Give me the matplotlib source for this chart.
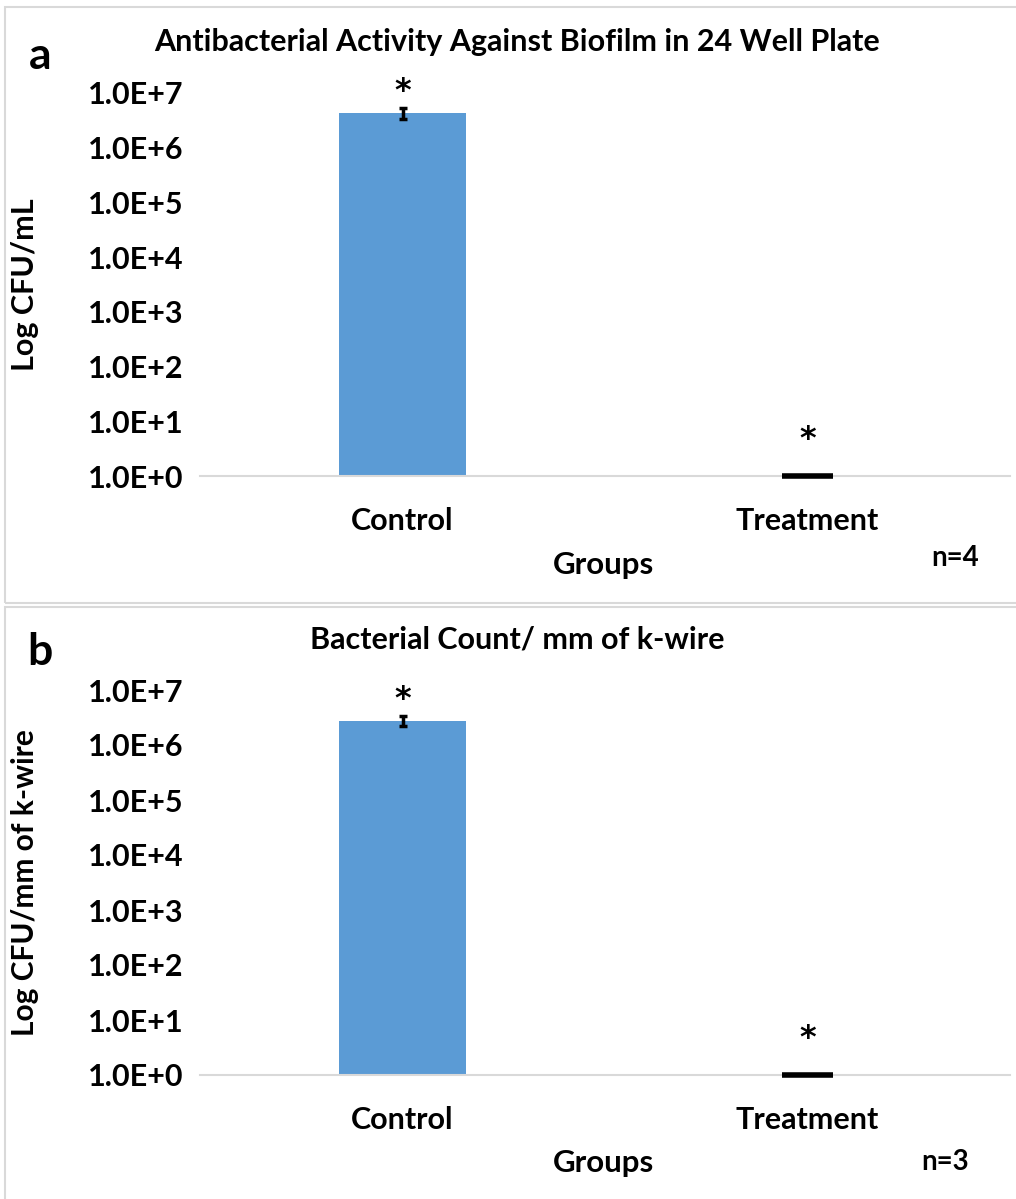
import matplotlib
matplotlib.use("Agg")
import matplotlib.pyplot as plt
from matplotlib.patches import Rectangle

plt.rcParams['font.family'] = ['Lato', 'DejaVu Sans']
plt.rcParams['font.weight'] = 'bold'

groups = ['Control', 'Treatment']

# panel a: biofilm in 24 well plate
title_a = 'Antibacterial Activity Against Biofilm in 24 Well Plate'
ylabel_a = 'Log CFU/mL'
cfu_a = [4.3e6, 1.0]
err_a = [1.0e6, 0.0]
n_a = 'n=4'

# panel b: k-wire
title_b = 'Bacterial Count/ mm of k-wire'
ylabel_b = 'Log CFU/mm of k-wire'
cfu_b = [2.75e6, 1.0]
err_b = [0.55e6, 0.0]
n_b = 'n=3'

yticks = [1e0, 1e1, 1e2, 1e3, 1e4, 1e5, 1e6, 1e7]
yticklabels = ['1.0E+%d' % i for i in range(8)]

W, H = 1016, 1199
fig = plt.figure(figsize=(W / 100, H / 100), dpi=100)

def px(x0, y0, x1, y1):
    # pixel box -> figure fraction rect
    return [x0 / W, 1 - y1 / H, (x1 - x0) / W, (y1 - y0) / H]

# panel frames
for y0, y1 in [(7, 603), (607, 1205)]:
    fig.patches.append(Rectangle((5 / W, 1 - y1 / H), (1020 - 5) / W, (y1 - y0) / H,
                                 transform=fig.transFigure, fill=False,
                                 edgecolor='#d9d9d9', linewidth=1.5))

star_offsets = [12, 26]  # points above the top of each mark

def panel(rect, letter, letter_xy, title, title_y, ylabel, ylabel_size, vals, errs, n_text, n_xy, groups_y):
    ax = fig.add_axes(px(*rect))
    ax.set_yscale('log')
    ax.set_ylim(1, 1e7)
    ax.set_xlim(-0.5, 1.5)
    ax.bar([0], [vals[0]], width=0.316, color='#5B9BD5', zorder=2)
    ax.errorbar([0], [vals[0]], yerr=[errs[0]], fmt='none', ecolor='black',
                elinewidth=2.5, capsize=3, capthick=2.5, zorder=3)
    # treatment sits at the baseline, drawn as a thick black line
    ax.hlines(vals[1], 1 - 0.063, 1 + 0.063, color='black', linewidth=4, zorder=3, clip_on=False)
    for i, v in enumerate(vals):
        top = v + errs[i]
        ax.annotate('*', (i, top), xytext=(0, star_offsets[i]), textcoords='offset points',
                    ha='center', va='center', fontsize=23, fontweight='bold',
                    family='DejaVu Sans', annotation_clip=False)
    ax.set_yticks(yticks)
    ax.set_yticklabels(yticklabels, fontweight='bold', fontsize=22)
    ax.minorticks_off()
    ax.set_xticks([0, 1])
    ax.set_xticklabels(groups, fontweight='bold', fontsize=22)
    ax.tick_params(axis='both', length=0)
    ax.tick_params(axis='y', pad=12)
    ax.tick_params(axis='x', pad=22)
    for s in ['top', 'right', 'left']:
        ax.spines[s].set_visible(False)
    ax.spines['bottom'].set_color('#d9d9d9')
    ax.spines['bottom'].set_linewidth(1.5)
    fig.text(25 / W, 1 - (rect[1] + rect[3]) / 2 / H, ylabel, rotation=90, ha='center',
             va='center', fontsize=ylabel_size, fontweight='bold')
    fig.text(603 / W, 1 - groups_y / H, 'Groups', ha='center', va='center', fontsize=22.5, fontweight='bold')
    fig.text(n_xy[0] / W, 1 - n_xy[1] / H, n_text, ha='center', va='center', fontsize=20, fontweight='bold')
    fig.text(517 / W, 1 - title_y / H, title, ha='center', va='center', fontsize=22, fontweight='bold')
    fig.text(letter_xy[0] / W, 1 - letter_xy[1] / H, letter, ha='center', va='center', fontsize=32, fontweight='bold')
    return ax

panel((200, 93, 1010, 476), 'a', (40, 56), title_a, 42, ylabel_a, 22, cfu_a, err_a, n_a, (955, 558), 565)
panel((200, 690, 1010, 1075), 'b', (40, 652), title_b, 640, ylabel_b, 21.5, cfu_b, err_b, n_b, (945, 1162), 1163)

fig.savefig('out.png', dpi=100)
